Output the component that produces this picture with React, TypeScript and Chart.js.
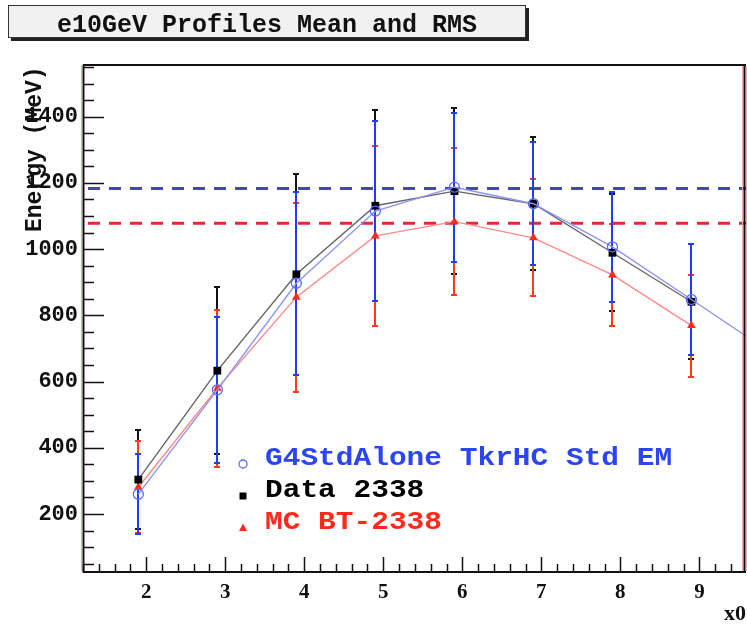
import React, { useEffect, useRef } from 'react';
import { Chart, registerables } from 'chart.js';

Chart.register(...registerables);

// ---- text ----
const TITLE = 'e10GeV Profiles Mean and RMS';
const Y_TITLE = 'Energy (MeV)';
const X_TITLE = 'x0';

// ---- data (layer position in X0, mean energy and RMS in MeV) ----
const xG4 = [1.9, 2.9, 3.9, 4.9, 5.9, 6.9, 7.9, 8.9, 9.9];
const g4Mean = [260, 575, 897, 1115, 1187, 1137, 1007, 848, 688];
const g4Rms = [120, 220, 277, 273, 225, 186, 167, 168, 150];

const xData = [1.9, 2.9, 3.9, 4.9, 5.9, 6.9, 7.9, 8.9];
const dataMean = [304, 633, 924, 1131, 1175, 1137, 989, 841];
const dataRms = [150, 252, 303, 289, 251, 201, 176, 173];

const xMc = [1.9, 2.9, 3.9, 4.9, 5.9, 6.9, 7.9, 8.9];
const mcMean = [281, 580, 855, 1040, 1083, 1034, 922, 769];
const mcRms = [139, 237, 285, 272, 222, 177, 154, 154];

// horizontal dashed reference lines (maximum of each simulation)
const g4RefLine = 1183;
const mcRefLine = 1078;

// axis ranges / ticks
const xMin = 1.2;
const xMax = 9.59;
const yMin = 28;
const yMax = 1553;
const xMajorStep = 1;
const xMinorStep = 0.2;
const yMajorStep = 200;
const yMinorStep = 50;

const MONO = '"Liberation Mono", "DejaVu Sans Mono", monospace';
const SERIF = '"Liberation Serif", "DejaVu Serif", serif';

const BLUE_BAR = '#1f3dff';
const RED_BAR = '#ff3a1c';
const BLACK_BAR = '#111111';

const toPts = (xs: number[], ys: number[]) => xs.map((x, i) => ({ x, y: ys[i] }));

const rootPlugin = {
  id: 'rootStyle',
  beforeDraw(chart: any) {
    const ctx = chart.ctx;
    ctx.save();
    ctx.fillStyle = '#ffffff';
    ctx.fillRect(0, 0, chart.width, chart.height);
    // title box with shadow
    ctx.fillStyle = '#222';
    ctx.fillRect(11, 8, 518, 33);
    ctx.fillStyle = '#f1f1f1';
    ctx.fillRect(8, 5, 518, 33);
    ctx.strokeStyle = '#333';
    ctx.lineWidth = 1;
    ctx.strokeRect(8.5, 5.5, 517, 32);
    ctx.fillStyle = '#111';
    ctx.font = `bold 25px ${MONO}`;
    ctx.textAlign = 'center';
    ctx.textBaseline = 'alphabetic';
    ctx.fillText(TITLE, 267, 32);
    ctx.restore();
  },
  beforeDatasetsDraw(chart: any) {
    const ctx = chart.ctx;
    const xs = chart.scales.x;
    const ys = chart.scales.y;
    const area = chart.chartArea;
    ctx.save();
    ctx.beginPath();
    ctx.rect(area.left, area.top, area.right - area.left, area.bottom - area.top);
    ctx.clip();

    // dashed reference lines
    const drawRef = (v: number, color: string) => {
      const y = ys.getPixelForValue(v);
      ctx.beginPath();
      ctx.setLineDash([12, 9]);
      ctx.strokeStyle = color;
      ctx.lineWidth = 3;
      ctx.moveTo(area.left + 5, y);
      ctx.lineTo(area.right, y);
      ctx.stroke();
    };
    drawRef(g4RefLine, '#4248ae');
    drawRef(mcRefLine, '#e2283a');
    ctx.setLineDash([]);

    // error bars (mean +- RMS)
    const drawBars = (xv: number[], mv: number[], ev: number[], color: string) => {
      ctx.strokeStyle = color;
      xv.forEach((x, i) => {
        if (x < xMin || x > xMax) return;
        const px = Math.round(xs.getPixelForValue(x));
        const top = Math.round(ys.getPixelForValue(mv[i] + ev[i]));
        const bot = Math.round(ys.getPixelForValue(mv[i] - ev[i]));
        ctx.lineWidth = 2;
        ctx.beginPath();
        ctx.moveTo(px, top);
        ctx.lineTo(px, bot);
        ctx.stroke();
        ctx.beginPath();
        ctx.moveTo(px - 3, top);
        ctx.lineTo(px + 3, top);
        ctx.moveTo(px - 3, bot);
        ctx.lineTo(px + 3, bot);
        ctx.stroke();
      });
    };
    drawBars(xData, dataMean, dataRms, BLACK_BAR);
    drawBars(xMc, mcMean, mcRms, RED_BAR);
    drawBars(xG4, g4Mean, g4Rms, BLUE_BAR);
    ctx.restore();
  },
  afterDatasetsDraw(chart: any) {
    const ctx = chart.ctx;
    const xs = chart.scales.x;
    const ys = chart.scales.y;
    const a = chart.chartArea;
    ctx.save();

    // frame
    ctx.strokeStyle = '#f2aaaa';
    ctx.lineWidth = 1;
    ctx.beginPath();
    ctx.moveTo(a.left - 1.5, a.top);
    ctx.lineTo(a.left - 1.5, a.bottom);
    ctx.moveTo(a.right + 0.5, a.top);
    ctx.lineTo(a.right + 0.5, a.bottom);
    ctx.moveTo(a.right - 3.5, a.top);
    ctx.lineTo(a.right - 3.5, a.bottom);
    ctx.stroke();
    ctx.strokeStyle = '#111';
    ctx.lineWidth = 2;
    ctx.beginPath();
    ctx.moveTo(a.left, a.top - 1);
    ctx.lineTo(a.right, a.top - 1);
    ctx.moveTo(a.left + 0.5, a.top - 1);
    ctx.lineTo(a.left + 0.5, a.bottom + 1);
    ctx.lineTo(a.right, a.bottom + 1);
    ctx.moveTo(a.right - 1.5, a.top - 1);
    ctx.lineTo(a.right - 1.5, a.bottom + 1);
    ctx.stroke();

    // inward ticks
    ctx.lineWidth = 1.5;
    ctx.beginPath();
    for (let k = Math.ceil(yMin / yMinorStep); k * yMinorStep <= yMax; k++) {
      const v = k * yMinorStep;
      const y = Math.round(ys.getPixelForValue(v)) + 0.5;
      const len = v % yMajorStep === 0 ? 21 : 11;
      ctx.moveTo(a.left, y);
      ctx.lineTo(a.left + len, y);
    }
    for (let k = Math.ceil(xMin / xMinorStep - 1e-6); k * xMinorStep <= xMax + 1e-6; k++) {
      const v = k * xMinorStep;
      const x = Math.round(xs.getPixelForValue(v)) + 0.5;
      const isMajor = Math.abs(v / xMajorStep - Math.round(v / xMajorStep)) < 1e-6;
      const len = isMajor ? 14 : 7;
      ctx.moveTo(x, a.bottom);
      ctx.lineTo(x, a.bottom - len);
    }
    ctx.stroke();

    // axis titles
    ctx.fillStyle = '#111';
    ctx.font = `bold 23px ${MONO}`;
    ctx.textBaseline = 'alphabetic';
    ctx.textAlign = 'left';
    ctx.save();
    ctx.translate(41, 232);
    ctx.rotate(-Math.PI / 2);
    ctx.fillText(Y_TITLE, 0, 0);
    ctx.restore();
    ctx.font = `bold 22px ${SERIF}`;
    ctx.textAlign = 'right';
    ctx.fillText(X_TITLE, 746, 620);

    // legend
    const rows = [465, 497, 529];
    chart.data.datasets.forEach((ds: any, i: number) => {
      const by = rows[i];
      const mx = 243;
      const my = by - 1;
      ctx.save();
      if (ds.pointStyle === 'circle') {
        ctx.strokeStyle = ds.pointBorderColor;
        ctx.lineWidth = 1.3;
        ctx.beginPath();
        ctx.arc(mx, my, 4, 0, Math.PI * 2);
        ctx.stroke();
      } else if (ds.pointStyle === 'rect') {
        ctx.fillStyle = ds.pointBackgroundColor;
        ctx.fillRect(mx - 3.5, my - 3.5, 7, 7);
      } else {
        ctx.fillStyle = ds.pointBackgroundColor;
        ctx.beginPath();
        ctx.moveTo(mx, my - 4.5);
        ctx.lineTo(mx + 4, my + 3);
        ctx.lineTo(mx - 4, my + 3);
        ctx.closePath();
        ctx.fill();
      }
      ctx.fillStyle = ds.legendTextColor;
      ctx.font = `bold 25px ${MONO}`;
      ctx.textAlign = 'left';
      ctx.textBaseline = 'alphabetic';
      ctx.translate(265, by);
      ctx.scale(1.18, 1);
      ctx.fillText(ds.label, 0, 0);
      ctx.restore();
    });
    ctx.restore();
  },
};

export default function App() {
  const ref = useRef<HTMLCanvasElement | null>(null);
  useEffect(() => {
    document.body.style.margin = '0';
    const canvas = ref.current;
    if (!canvas) return;
    const chart = new Chart(canvas, {
      type: 'scatter',
      data: {
        datasets: [
          {
            label: 'G4StdAlone TkrHC Std EM',
            data: toPts(xG4, g4Mean),
            showLine: true,
            borderColor: '#8b95f6',
            borderWidth: 1.4,
            pointStyle: 'circle',
            pointRadius: 5,
            pointBorderWidth: 1.3,
            pointBorderColor: '#5b6cff',
            pointBackgroundColor: 'rgba(0,0,0,0)',
            legendTextColor: '#2b45f5',
            clip: 0,
          } as any,
          {
            label: 'Data 2338',
            data: toPts(xData, dataMean),
            showLine: true,
            borderColor: '#666666',
            borderWidth: 1.4,
            pointStyle: 'rect',
            pointRadius: 5.5,
            pointBorderWidth: 0,
            pointBorderColor: '#000000',
            pointBackgroundColor: '#000000',
            legendTextColor: '#000000',
          } as any,
          {
            label: 'MC BT-2338',
            data: toPts(xMc, mcMean),
            showLine: true,
            borderColor: '#ff8a8a',
            borderWidth: 1.4,
            pointStyle: 'triangle',
            pointRadius: 5,
            pointBorderWidth: 0,
            pointBorderColor: '#ff2a1a',
            pointBackgroundColor: '#ff2a1a',
            legendTextColor: '#ff2a1a',
          } as any,
        ],
      },
      options: {
        responsive: false,
        animation: false,
        events: [],
        layout: { autoPadding: false, padding: { top: 66, left: 0, right: 1, bottom: 0 } },
        plugins: {
          legend: { display: false },
          tooltip: { enabled: false },
          title: { display: false },
        },
        scales: {
          x: {
            type: 'linear',
            min: xMin,
            max: xMax,
            afterFit: (s: any) => {
              s.height = 53;
            },
            grid: { display: false, drawTicks: false },
            border: { display: false },
            ticks: {
              stepSize: xMajorStep,
              includeBounds: false,
              autoSkip: false,
              maxRotation: 0,
              padding: 9,
              color: '#111',
              font: { family: SERIF, weight: 'bold', size: 21 },
              callback: (v: any) => String(Math.round(Number(v))),
            },
          },
          y: {
            type: 'linear',
            min: yMin,
            max: yMax,
            afterFit: (s: any) => {
              s.width = 83;
            },
            grid: { display: false, drawTicks: false },
            border: { display: false },
            ticks: {
              stepSize: yMajorStep,
              includeBounds: false,
              autoSkip: false,
              padding: 5,
              color: '#111',
              font: { family: MONO, weight: 'bold', size: 22 },
              callback: (v: any) => String(Math.round(Number(v))),
            },
          },
        },
      },
      plugins: [rootPlugin],
    });
    return () => chart.destroy();
  }, []);
  return (
    <div style={{ position: 'absolute', left: 0, top: 0, width: 747, height: 624 }}>
      <canvas ref={ref} width={747} height={624} style={{ width: 747, height: 624, display: 'block' }} />
    </div>
  );
}
